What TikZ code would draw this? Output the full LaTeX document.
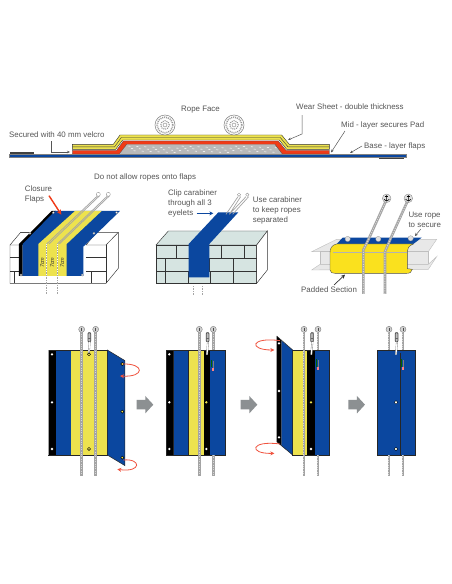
\documentclass[tikz,border=0pt]{standalone}
\usepackage{fontspec}
\setmainfont{Liberation Sans}
\usetikzlibrary{arrows.meta}
\definecolor{flapblue}{HTML}{0B479F}
\definecolor{padyellow}{HTML}{EDE24E}
\definecolor{beamyellow}{HTML}{FAE11E}
\definecolor{redlayer}{HTML}{F03A17}
\definecolor{txt}{HTML}{555555}
\definecolor{brick}{HTML}{D6E4E1}
\definecolor{ropegray}{HTML}{A4A4A4}
\definecolor{ropelight}{HTML}{D8D8D8}
\definecolor{arrowgray}{HTML}{8C9092}
\definecolor{curlred}{HTML}{F0533F}
\tikzset{
  lbl/.style={font=\fontsize{7.9}{10}\selectfont,text=txt,inner sep=0pt,align=left,anchor=west},
  leader/.style={draw=txt,line width=.5pt,-{Stealth[length=3pt,width=2.5pt]}},
  edge line/.style={draw=black!80,line width=.45pt},
  panel/.style={draw=black!85,line width=.5pt},
  curl/.style={draw=curlred,line width=.8pt,-{Stealth[length=4pt,width=4pt]}},
  blockarrow/.style={fill=arrowgray,draw=none},
  thinrope/.style={draw=ropegray,line width=.7pt},
}
\newcommand{\rope}[3]{%
  \draw[draw=ropegray,line width=2.8pt] (#1,#2) -- (#1,#3);
  \draw[draw=ropelight,line width=1pt,dash pattern=on 1pt off 1.4pt] (#1,#2) -- (#1,#3);
}
\newcommand{\ropepath}[1]{%
  \draw[draw=ropegray,line width=2.6pt,line join=round] #1;
  \draw[draw=ropelight,line width=1pt,dash pattern=on 1pt off 1.4pt] #1;
}
\newcommand{\screw}[2]{%
  \fill[ropegray!50] (#1,#2) circle (3pt);
  \draw[black!50,line width=.4pt] (#1,#2) circle (3pt);
  \draw[black!70,line width=.5pt] (#1,#2-5) -- (#1,#2+5);
}
\newcommand{\dotw}[2]{\fill[white] (#1,#2) circle (1.3pt);}
\newcommand{\doty}[2]{\fill[black] (#1,#2) circle (1.9pt);\fill[padyellow] (#1,#2) circle (1pt);}
\newcommand{\carab}[2]{%
  \fill[ropegray!70] (#1-3,#2-24) rectangle (#1+6,#2+6);
  \draw[black!70,line width=.7pt,rounded corners=1pt] (#1-3,#2-22) rectangle (#1+5,#2+6);
  \draw[black!60,line width=.6pt] (#1-3,#2-6) -- (#1+5,#2-6);
  \draw[black!50,line width=1.8pt] (#1+2,#2+6) -- (#1-1,#2+44);
  \draw[white,line width=1.1pt] (#1+2,#2+6) -- (#1-1,#2+44);
}
\newcommand{\garrow}[1]{%
  \fill[blockarrow] (#1,240) -- (#1+26,240) -- (#1+26,228) -- (#1+50,254) -- (#1+26,280) -- (#1+26,268) -- (#1,268) -- cycle;
}
\newcommand{\stitch}[2]{%
  \draw[green!40!black,line width=.35pt] (#1,#2) -- (#1,#2+22);
  \draw[gray,line width=.35pt] (#1+6,#2+2) -- (#1+6,#2+30);
  \fill[red!50!white] (#1+2,#2+24) rectangle (#1+9,#2+32);
}
\newcommand{\bigrope}[2]{%
  \fill[white] (#1,#2) circle (10pt);
  \draw[gray,line width=.5pt] (#1,#2) circle (10pt);
  \draw[gray!80,line width=1.6pt,dash pattern=on 1pt off 1pt] (#1,#2) circle (7.8pt);
  \draw[gray!80,line width=1.2pt,dash pattern=on 1pt off 1pt] (#1,#2) circle (4.3pt);
  \draw[gray,line width=.4pt] (#1,#2) circle (2pt);
}
\begin{document}
\begin{tikzpicture}[x=1pt,y=-1pt]
\useasboundingbox (0,0) rectangle (452,584);
\fill[white] (0,0) rectangle (452,584);

%% ---------- cross-section
\begin{scope}[shift={(0,90)},x=.3333pt,y=-.3333pt]
  \fill[black!75] (30,187) rectangle (102,192);
  \fill[black!75] (1138,202) rectangle (1212,208);
  \fill[gray!55] (360,192) -- (378,165) -- (828,165) -- (846,192) -- cycle;
  \foreach \i in {0,...,55}{\draw[white,line width=.5pt] ({385+\i*8},{168+mod(\i*7,20)}) -- ++(6,1);}
  \fill[redlayer,draw=black!70,line width=.3pt] (217,181) -- (350,181) -- (370,153) -- (835,153) -- (858,181) -- (988,181) -- (988,192) -- (847,192) -- (825,163) -- (380,163) -- (358,192) -- (217,192) -- cycle;
  \fill[padyellow,draw=black!80,line width=.4pt] (217,163) -- (340,163) -- (360,135) -- (845,135) -- (868,163) -- (988,163) -- (988,178) -- (860,178) -- (838,150) -- (368,150) -- (347,178) -- (217,178) -- cycle;
  \draw[black!80,line width=.4pt] (217,170.5) -- (344,170.5) -- (364,142.5) -- (841,142.5) -- (864,170.5) -- (988,170.5);
  \fill[flapblue,draw=black!50,line width=.2pt] (27,193) rectangle (1219,201);
\end{scope}
\bigrope{165}{125}
\bigrope{234}{125}
\node[lbl] (rope) at (181,109.5) {Rope Face};
\node[lbl] (wear) at (296,107) {Wear Sheet - double thickness};
\node[lbl] (mid) at (341,125) {Mid - layer secures Pad};
\node[lbl] (base) at (364,146) {Base - layer flaps};
\node[lbl] (velcro) at (9,134.5) {Secured with 40  mm velcro};
\node[lbl] (noropes) at (94,177) {Do not allow ropes onto flaps};
\coordinate (wearA) at (302,115);
\coordinate (wearM) at (302,134);
\coordinate (wearB) at (288,140);
\coordinate (midA) at (345,131);
\coordinate (midB) at (331,152.5);
\coordinate (baseA) at (362,146);
\coordinate (baseB) at (350,153);
\coordinate (velA) at (51,141);
\coordinate (velM) at (51,152);
\coordinate (velB) at (70,152);
\draw[leader] (wearA) -- (wearM) -- (wearB);
\draw[leader] (midA) -- (midB);
\draw[leader] (baseA) -- (baseB);
\draw[leader] (velA) -- (velM) -- (velB);

%% ---------- left sketch
\begin{scope}[shift={(0,170)},x=.3333pt,y=-.3333pt]
  \path[edge line,fill=white] (30,225) -- (62,187) -- (355,187) -- (355,295) -- (318,340) -- (30,340) -- cycle;
  \draw[edge line] (62,187) -- (95,187) -- (65,225) -- (30,225);
  \draw[edge line] (290,187) -- (258,225) -- (318,225) -- (355,187);
  \draw[edge line] (318,225) -- (318,340);
  \draw[edge line] (30,262) -- (57,262) (258,262) -- (318,262);
  \draw[edge line] (30,305) -- (57,305) (258,305) -- (318,305);
  \draw[edge line] (42,305) -- (42,340) (275,305) -- (275,340);
  \fill[black] (155,123) -- (168,123) -- (68,225) -- (68,318) -- (57,318) -- (57,222) -- cycle;
  \fill[flapblue] (165,123) -- (360,123) -- (250,230) -- (250,318) -- (68,318) -- (68,222) -- cycle;
  \fill[padyellow] (115,222) -- (225,123) -- (305,123) -- (200,222) -- (200,318) -- (115,318) -- cycle;
  \foreach \px/\py in {160/128,350/128,282/190,90/190,63/315,247/315}{\fill[white,draw=black!60,line width=.2pt] (\px,\py) circle (3.5);}
  \foreach \tx in {127,157,187}{\node[rotate=90,font=\fontsize{5.5}{6}\selectfont\itshape,inner sep=0pt,text=black!80] at (\tx,278) {7cm};}
  \draw[draw=ropegray,line width=1.3pt] (140,222) -- (140,372) (172,222) -- (172,372);
  \draw[draw=white,line width=.5pt,dash pattern=on 1pt off 1.5pt] (140,222) -- (140,372) (172,222) -- (172,372);
  \draw[thinrope] (140,222) -- (292,78) (147,222) -- (298,78);
  \draw[thinrope] (172,222) -- (322,78) (178,222) -- (328,78);
  \foreach \px in {295,325}{\draw[gray,line width=.3pt] (\px,73) circle (6);}
  \draw[redlayer,line width=1.4pt,-{Stealth[length=5pt,width=5pt]}] (147,77) -- (184,134);
  \node[lbl,align=left] (closure) at (74,74) {Closure\\Flaps};
\end{scope}

%% ---------- middle sketch
\begin{scope}[shift={(150,170)},x=.3333pt,y=-.3333pt]
  \draw[edge line,fill=brick] (18,225) -- (55,183) -- (352,183) -- (320,225) -- cycle;
  \draw[edge line,fill=brick] (18,225) rectangle (320,340);
  \draw[edge line,fill=white] (320,225) -- (352,183) -- (352,300) -- (320,340) -- cycle;
  \draw[edge line] (18,265) -- (320,265) (18,305) -- (320,305);
  \draw[edge line] (78,225) -- (78,265) (215,225) -- (215,265) (283,225) -- (283,265);
  \draw[edge line] (45,265) -- (45,305) (178,265) -- (178,305) (250,265) -- (250,305);
  \draw[edge line] (45,305) -- (45,340) (115,305) -- (115,340) (180,305) -- (180,340) (250,305) -- (250,340);
  \fill[flapblue] (205,127) -- (265,127) -- (178,222) -- (178,322) -- (116,322) -- (116,222) -- cycle;
  \draw[thinrope] (228,133) -- (264,80) (238,133) -- (272,80) (238,133) -- (288,80) (248,133) -- (296,80);
  \foreach \px in {267,292}{\draw[gray,line width=.3pt] (\px,74) circle (5);}
  \draw[ropegray,line width=1.3pt] (130,345) -- (130,375) (158,345) -- (158,375);
  \draw[draw=white,line width=.5pt,dash pattern=on 1pt off 1.5pt] (130,345) -- (130,375) (158,345) -- (158,375);
  \node[lbl] (clip) at (54,100) {Clip carabiner\\through all 3\\eyelets};
  \node[lbl] (use) at (308,120) {Use carabiner\\to keep ropes\\separated};
  \coordinate (clipA) at (140,130);
  \coordinate (clipB) at (190,130);
  \draw[flapblue,line width=1pt,-{Stealth[length=4pt,width=4pt]}] (clipA) -- (clipB);
\end{scope}

%% ---------- right sketch
\begin{scope}[shift={(300,170)},x=.3333pt,y=-.3333pt]
  \draw[gray!50,fill=gray!18,line width=.4pt] (35,245) -- (110,208) -- (410,208) -- (385,245) -- cycle;
  \draw[gray!50,fill=gray!18,line width=.4pt] (60,245) rectangle (385,283);
  \draw[gray!50,fill=gray!18,line width=.4pt] (35,300) -- (60,283) -- (385,283) -- (410,260) -- (385,298) -- cycle;
  \path[fill=flapblue] (110,222) -- (128,203) -- (365,203) -- (340,222) -- cycle;
  \draw[black!70,line width=.4pt,fill=beamyellow] (110,222) .. controls (95,225) and (90,235) .. (90,248) -- (90,300) .. controls (92,308) and (96,310) .. (105,310) -- (320,310) .. controls (330,310) and (335,306) .. (337,298) -- (322,296) -- (322,245) .. controls (322,235) and (325,228) .. (340,222) -- cycle;
  \draw[black!30,line width=.3pt] (100,246) -- (322,246);
  \foreach \px/\py in {143/207,235/207,332/205}{\fill[gray!25,draw=gray,line width=.2pt] (\px,\py) circle (8);}
  \ropepath{(260,88) -- (207,205) -- (190,240) -- (190,372)}
  \ropepath{(325,88) -- (272,205) -- (255,245) -- (255,372)}
  \foreach \px in {260,325}{
    \fill[gray!25,draw=gray,line width=.3pt] (\px,85) circle (13);
    \draw[black,line width=.6pt] (\px,75) -- (\px,94) (\px-8,88) .. controls (\px-5,95) and (\px+5,95) .. (\px+8,88);
    \draw[black,line width=.6pt] (\px-5,79) -- (\px+5,79);
  }
  \node[lbl] (userope) at (325,150) {Use rope\\to secure};
  \node[lbl] (padded) at (3,358) {Padded Section};
  \coordinate (urA) at (362,178);
  \coordinate (urB) at (345,198);
  \coordinate (psA) at (102,345);
  \coordinate (psB) at (135,314);
  \draw[txt,line width=.5pt,-{Stealth[length=3pt,width=3pt]}] (urA) -- (urB);
  \draw[black!80,line width=.7pt,-{Stealth[length=4pt,width=4pt]}] (psA) -- (psB);
\end{scope}

%% ---------- steps 1 and 2
\begin{scope}[shift={(30,320)},x=.3333pt,y=-.3333pt]
  \fill[black] (55,90) rectangle (77,405);
  \fill[flapblue] (77,90) rectangle (122,405);
  \fill[padyellow] (122,90) rectangle (232,405);
  \draw[panel] (55,90) rectangle (232,405);
  \draw[ropegray,line width=.6pt] (55,90) -- (55,405);
  \draw[panel,fill=flapblue] (232,90) -- (285,122) -- (285,437) -- (232,405) -- cycle;
  \rope{155}{35}{467}\rope{197}{35}{467}
  \screw{155}{28}\screw{197}{28}
  \carab{177}{60}
  \doty{177}{103}\doty{177}{387}
  \dotw{66}{103}\dotw{66}{247}\dotw{66}{387}
  \doty{277}{132}\doty{277}{275}\doty{277}{413}
  \draw[curl] (278,132) .. controls (345,130) and (345,172) .. (270,168);
  \draw[curl] (280,420) .. controls (335,415) and (335,458) .. (262,448);
  \garrow{320}
  % panel 2
  \fill[black] (408,90) rectangle (430,405);
  \fill[flapblue] (430,90) rectangle (475,405);
  \fill[padyellow] (475,90) rectangle (522,405);
  \fill[black] (522,90) rectangle (541,405);
  \fill[flapblue] (541,90) rectangle (585,405);
  \draw[panel] (408,90) rectangle (585,405);
  \draw[panel] (430,90) -- (430,405) (475,90) -- (475,405);
  \rope{508}{35}{467}\rope{550}{35}{90}\rope{550}{405}{467}
  \screw{508}{28}\screw{550}{28}
  \carab{532}{60}
  \stitch{544}{120}
  \dotw{418}{103}\dotw{418}{247}\dotw{418}{387}
  \fill[padyellow] (529,247) circle (1.3pt);
  \dotw{529}{387}
\end{scope}

%% ---------- steps 3 and 4
\begin{scope}[shift={(230,320)},x=.3333pt,y=-.3333pt]
  \garrow{32}
  \fill[padyellow] (188,90) rectangle (232,405);
  \fill[black] (232,90) rectangle (254,405);
  \fill[flapblue] (254,90) rectangle (299,405);
  \draw[panel] (188,90) rectangle (299,405);
  \fill[black] (140,48) -- (155,62) -- (155,378) -- (140,365) -- cycle;
  \fill[flapblue] (155,62) -- (188,90) -- (188,405) -- (155,378) -- cycle;
  \draw[panel] (140,48) -- (188,90) -- (188,405) -- (140,365);
  \draw[ropegray,line width=.7pt] (139,48) -- (139,365);
  \rope{222}{35}{467}\rope{264}{35}{90}\rope{264}{405}{467}
  \screw{222}{28}\screw{264}{28}
  \carab{245}{60}
  \stitch{258}{118}
  \dotw{147}{70}\dotw{147}{213}\dotw{147}{352}
  \fill[padyellow] (243,247) circle (1.3pt);
  \dotw{243}{387}
  \draw[curl] (150,62) .. controls (60,50) and (55,90) .. (133,90);
  \draw[curl] (150,372) .. controls (60,360) and (55,402) .. (133,400);
  \garrow{355}
  % panel 4
  \fill[flapblue] (443,90) rectangle (555,405);
  \draw[panel] (443,90) rectangle (555,405);
  \draw[black!85,line width=.6pt] (510,100) -- (510,405);
  \rope{477}{35}{90}\rope{477}{405}{467}
  \rope{519}{35}{90}\rope{519}{405}{467}
  \screw{477}{28}\screw{519}{28}
  \carab{499}{60}
  \stitch{513}{118}
  \doty{498}{247}\doty{498}{387}
  \fill[white] (498,247) circle (1.2pt);
  \fill[white] (498,387) circle (1.2pt);
\end{scope}
\end{tikzpicture}
\end{document}
